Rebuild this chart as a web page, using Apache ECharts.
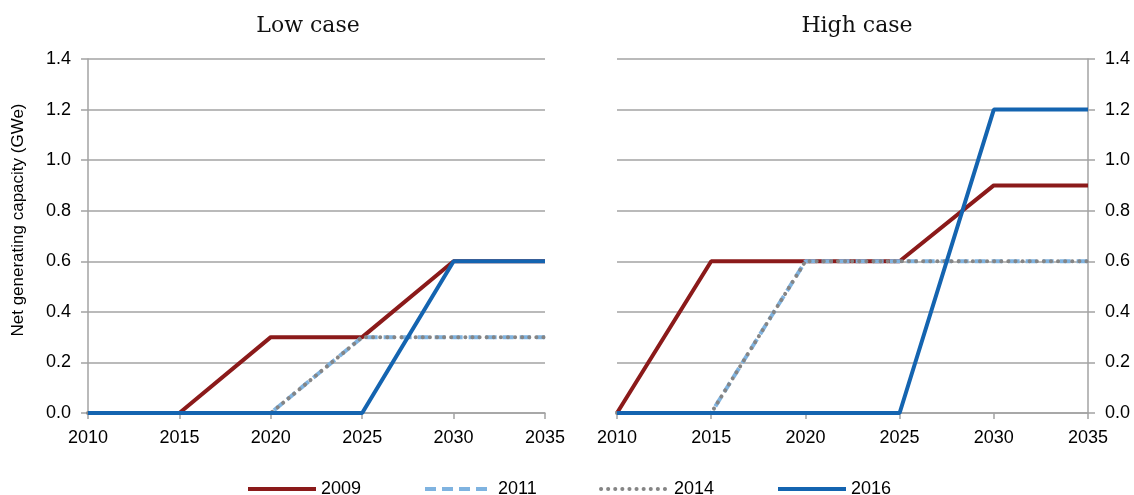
<!DOCTYPE html>
<html>
<head>
<meta charset="utf-8">
<script src="https://cdn.jsdelivr.net/npm/echarts@6/dist/echarts.min.js"></script>
<style>
  html, body { margin: 0; padding: 0; background: #fff; }
  #chart { width: 1134px; height: 495px; }
</style>
</head>
<body>
<div id="chart"></div>
<script>
// Years on the horizontal axis
const years = ['2010', '2015', '2020', '2025', '2030', '2035'];

// Low case projections (GWe), by edition
const low2009 = [0, 0, 0.3, 0.3, 0.6, 0.6];
const low2011 = [0, 0, 0, 0.3, 0.3, 0.3];
const low2014 = [0, 0, 0, 0.3, 0.3, 0.3];
const low2016 = [0, 0, 0, 0, 0.6, 0.6];

// High case projections (GWe), by edition
const high2009 = [0, 0.6, 0.6, 0.6, 0.9, 0.9];
const high2011 = [0, 0, 0.6, 0.6, 0.6, 0.6];
const high2014 = [0, 0, 0.6, 0.6, 0.6, 0.6];
const high2016 = [0, 0, 0, 0, 1.2, 1.2];

const editions = ['2009', '2011', '2014', '2016'];
const panelTitles = ['Low case', 'High case'];
const yTitle = 'Net generating capacity (GWe)';

const sansFont = '"Liberation Sans Narrow", "Liberation Sans", Arial, sans-serif';
const gridColor = '#a3a3a3';

const lineStyles = {
  '2009': { color: '#8b1a1a', width: 4, type: 'solid' },
  '2011': { color: '#7fb3e0', width: 4, type: [11, 6] },
  '2014': { color: '#858585', width: 4, type: [0.1, 7], cap: 'round' },
  '2016': { color: '#1464b0', width: 4, type: 'solid' }
};

function makeSeries(name, data, idx) {
  const ls = lineStyles[name];
  return {
    name: name,
    type: 'line',
    xAxisIndex: idx,
    yAxisIndex: idx,
    data: data,
    symbol: 'none',
    showSymbol: false,
    silent: true,
    color: ls.color,
    lineStyle: Object.assign({}, ls),
    emphasis: { disabled: true }
  };
}

function xAxisFor(idx) {
  return {
    type: 'category',
    gridIndex: idx,
    data: years,
    boundaryGap: false,
    axisLine: { show: true, lineStyle: { color: gridColor, width: 1.5 } },
    axisTick: { show: true, length: 6, lineStyle: { color: gridColor, width: 1.5 } },
    axisLabel: { color: '#000', fontFamily: sansFont, fontSize: 18, margin: 16 },
    splitLine: { show: false }
  };
}

function yAxisFor(idx, position) {
  return {
    type: 'value',
    gridIndex: idx,
    position: position,
    min: 0,
    max: 1.4,
    interval: 0.2,
    axisLine: { show: true, lineStyle: { color: gridColor, width: 1.5 } },
    axisTick: { show: true, length: 7, lineStyle: { color: gridColor, width: 1.5 } },
    axisLabel: {
      color: '#000', fontFamily: sansFont, fontSize: 18, margin: 17,
      formatter: v => v.toFixed(1)
    },
    splitLine: { show: true, lineStyle: { color: gridColor, width: 1.5 } }
  };
}

const legendLefts = [246, 423, 599, 776];

const chart = echarts.init(document.getElementById('chart'), null, { renderer: 'canvas' });
chart.setOption({
  animation: false,
  backgroundColor: '#fff',
  title: [
    { text: panelTitles[0], left: 303, top: 10, textAlign: 'center',
      textStyle: { fontFamily: '"DejaVu Serif", serif', fontWeight: 'normal', fontSize: 22, color: '#111' } },
    { text: panelTitles[1], left: 852, top: 10, textAlign: 'center',
      textStyle: { fontFamily: '"DejaVu Serif", serif', fontWeight: 'normal', fontSize: 22, color: '#111' } }
  ],
  grid: [
    { left: 88, right: 589, top: 59, bottom: 82 },
    { left: 617, right: 46, top: 59, bottom: 82 }
  ],
  xAxis: [xAxisFor(0), xAxisFor(1)],
  yAxis: [yAxisFor(0, 'left'), yAxisFor(1, 'right')],
  legend: editions.map((name, i) => ({
    data: [name],
    left: legendLefts[i],
    top: 480,
    padding: 0,
    itemWidth: 68,
    itemHeight: 14,
    selectedMode: false,
    itemStyle: { opacity: 0 },
    lineStyle: { width: 4 },
    textStyle: { color: '#000', fontFamily: sansFont, fontSize: 18 }
  })),
  graphic: [{
    type: 'text',
    x: 18,
    y: 220,
    rotation: Math.PI / 2,
    style: {
      text: yTitle,
      fill: '#000',
      font: '17px ' + sansFont,
      textAlign: 'center',
      textVerticalAlign: 'middle'
    }
  }],
  series: [
    makeSeries('2009', low2009, 0),
    makeSeries('2011', low2011, 0),
    makeSeries('2014', low2014, 0),
    makeSeries('2016', low2016, 0),
    makeSeries('2009', high2009, 1),
    makeSeries('2011', high2011, 1),
    makeSeries('2014', high2014, 1),
    makeSeries('2016', high2016, 1)
  ]
});
</script>
</body>
</html>
